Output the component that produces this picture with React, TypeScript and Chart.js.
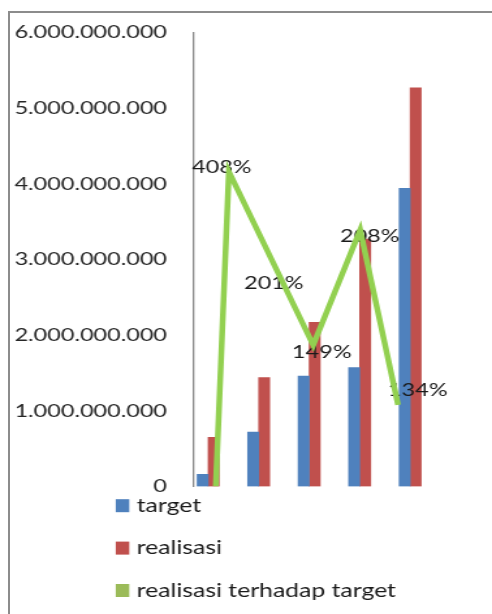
import React, { useEffect, useRef } from "react";
import { Chart, registerables } from "chart.js";

Chart.register(...registerables);

// ---- data ----
const categories = [1, 2, 3, 4, 5];
const target = [160e6, 720e6, 1460e6, 1570e6, 3940e6];
const realisasi = [650e6, 1440e6, 2170e6, 3270e6, 5270e6];
// green line vertices (as drawn in the source picture)
const ratioX = [1.15, 1.41, 3.08, 4.01, 4.76];
const ratioY = [0, 4.16e9, 1.87e9, 3.39e9, 1.08e9];
// percentage labels and where they sit
const ratioLabels = ["408%", "201%", "149%", "208%", "134%"];
const ratioLabelX = [1.27, 2.3, 3.25, 4.2, 5.15];
const ratioLabelY = [4.22e9, 2.69e9, 1.77e9, 3.31e9, 1.27e9];
const yMax = 6e9;
const yStep = 1e9;

const seriesNames = ["target", "realisasi", "realisasi terhadap target"];
const colors = ["#4f81bd", "#c0504d", "#92d050"];
const legendColors = ["#4f81bd", "#c0504d", "#9bbb59"];

const FONT = "Lato";
const CSS_W = 492;
const CSS_H = 614;
const STRETCH = 1.3016;
const INT_W = Math.round(CSS_W / STRETCH);

function fmt(v: number): string {
  return String(Math.round(v)).replace(/\B(?=(\d{3})+(?!\d))/g, ".");
}

const labelPlugin = {
  id: "ratioLabels",
  beforeDatasetDraw(chart: any, args: any) {
    if (args.index !== 2) return;
    const { ctx, scales } = chart;
    ctx.save();
    ctx.font = `18px ${FONT}`;
    ctx.fillStyle = "#1a1a1a";
    ctx.textAlign = "center";
    ctx.textBaseline = "middle";
    ratioLabels.forEach((t, i) => {
      ctx.fillText(
        t,
        scales.x.getPixelForValue(ratioLabelX[i]),
        scales.y.getPixelForValue(ratioLabelY[i])
      );
    });
    ctx.restore();
  },
};

const legendPlugin = {
  id: "stackLegend",
  afterDraw(chart: any) {
    const ctx = chart.ctx;
    const boxLeft = 88.9;
    const boxW = 10.4;
    const boxH = 13;
    const textLeft = 105;
    const top = 505.7;
    const gap = 42.4;
    ctx.save();
    ctx.font = `19px ${FONT}`;
    ctx.textBaseline = "middle";
    ctx.textAlign = "left";
    seriesNames.forEach((name, i) => {
      const y = top + i * gap;
      ctx.fillStyle = legendColors[i];
      ctx.fillRect(boxLeft, y - boxH / 2, boxW, boxH);
      ctx.fillStyle = "#1a1a1a";
      ctx.fillText(name, textLeft, y);
    });
    ctx.restore();
  },
};

export default function App() {
  const ref = useRef<HTMLCanvasElement | null>(null);

  useEffect(() => {
    let chart: Chart | null = null;
    let cancelled = false;
    const build = () => {
      if (cancelled || !ref.current) return;
      chart = new Chart(ref.current, {
        type: "bar",
        data: {
          datasets: [
            {
              type: "bar",
              label: seriesNames[0],
              data: categories.map((c, i) => ({ x: c, y: target[i] })),
              backgroundColor: colors[0],
              barThickness: 8.45,
              order: 1,
            },
            {
              type: "bar",
              label: seriesNames[1],
              data: categories.map((c, i) => ({ x: c, y: realisasi[i] })),
              backgroundColor: colors[1],
              barThickness: 8.45,
              order: 1,
            },
            {
              type: "line",
              label: seriesNames[2],
              data: ratioX.map((x, i) => ({ x, y: ratioY[i] })),
              borderColor: colors[2],
              backgroundColor: colors[2],
              borderWidth: 4.5,
              pointRadius: 0,
              tension: 0,
              order: 0,
            },
          ],
        } as any,
        options: {
          animation: false,
          responsive: false,
          devicePixelRatio: 1,
          layout: { padding: { left: 0, top: 32.5, right: 39.6, bottom: 127.5 } },
          plugins: {
            legend: { display: false },
            tooltip: { enabled: false },
          },
          scales: {
            x: {
              type: "linear",
              display: false,
              offset: false,
              min: 0.7,
              max: 5.6,
            },
            y: {
              min: 0,
              max: yMax,
              afterFit: (scale: any) => {
                scale.width = 148.3;
              },
              grid: { display: false, drawTicks: false },
              border: { display: true, color: "#8a8a8a", width: 1.3 },
              ticks: {
                stepSize: yStep,
                padding: 20,
                color: "#262626",
                font: { family: FONT, size: 18 },
                callback: (v: any) => fmt(Number(v)),
              },
            },
          },
        } as any,
        plugins: [labelPlugin, legendPlugin],
      });
    };
    const fonts: any = (document as any).fonts;
    if (fonts && fonts.load) {
      fonts.load(`18px ${FONT}`).then(build, build);
    } else {
      build();
    }
    return () => {
      cancelled = true;
      if (chart) chart.destroy();
    };
  }, []);

  return (
    <div
      style={{
        position: "fixed",
        left: 0,
        top: 0,
        width: CSS_W,
        height: CSS_H,
        overflow: "hidden",
        background: "#ffffff",
      }}
    >
      <div
        style={{
          position: "absolute",
          left: 8,
          top: 11,
          width: 1000,
          height: 1000,
          border: "2px solid #8c8c8c",
          boxSizing: "border-box",
        }}
      />
      <canvas
        ref={ref}
        width={INT_W}
        height={CSS_H}
        style={{
          position: "absolute",
          left: 0,
          top: 0,
          width: CSS_W + "px",
          height: CSS_H + "px",
        }}
      />
    </div>
  );
}
